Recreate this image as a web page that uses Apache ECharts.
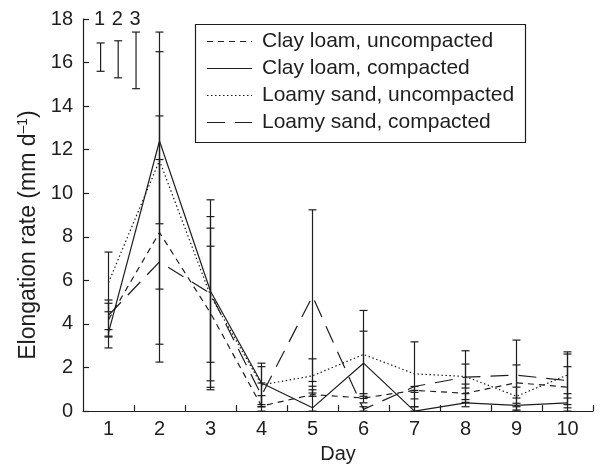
<!DOCTYPE html>
<html>
<head>
<meta charset="utf-8">
<script src="https://cdn.jsdelivr.net/npm/echarts@6/dist/echarts.min.js"></script>
<style>html,body{margin:0;padding:0;background:#fff}#c{width:601px;height:469px}</style>
</head>
<body>
<div id="c"></div>
<script>
// ---- data ----
var days = [1, 2, 3, 4, 5, 6, 7, 8, 9, 10];
var dayTicks = [1.5, 2.5, 3.5, 4.5, 5.5, 6.5, 7.5, 8.5, 9.5, 10.5];
var yTicks = [0, 2, 4, 6, 8, 10, 12, 14, 16, 18];
var seriesNames = ['Clay loam, uncompacted', 'Clay loam, compacted', 'Loamy sand, uncompacted', 'Loamy sand, compacted'];

var clayUncomp   = [4.2, 8.2, 4.5, 0.23, 0.76, 0.6, 0.95, 0.82, 1.3, 1.1];
var clayUncompLo = [3.4, 3.07, 0.98, 0.0, 0.68, 0.38, 0.56, 0.4, 0.6, 0.15];
var clayUncompHi = [4.95, 13.55, 7.57, 0.71, 1.14, 0.8, 0.95, 1.24, 2.12, 2.04];

var clayComp   = [3.6, 12.4, 5.5, 1.29, 0.15, 2.2, 0.0, 0.38, 0.26, 0.38];
var clayCompLo = [2.9, 8.6, 1.39, 0.3, 0.0, 0.68, 0.0, 0.2, 0.0, 0.0];
var clayCompHi = [3.74, 16.5, 9.7, 2.2, 0.98, 3.67, 0.2, 0.8, 0.36, 0.8];

var sandUncomp   = [5.9, 11.5, 5.3, 1.2, 1.62, 2.6, 1.71, 1.59, 0.68, 1.66];
var sandUncompLo = [4.56, 5.6, 1.09, 0.2, 0.83, 0.58, 0.2, 0.53, 0.2, 0.6];
var sandUncompHi = [7.3, 17.4, 8.93, 2.04, 2.4, 4.62, 3.18, 2.77, 1.1, 2.72];

var sandComp   = [4.4, 6.85, 5.4, 0.72, 5.27, 0.08, 1.13, 1.56, 1.65, 1.4];
var sandCompLo = [3.44, 2.25, 2.24, 0.2, 1.36, 0.0, 0.86, 1.06, 0.05, 0.3];
var sandCompHi = [5.1, 11.55, 8.4, 1.29, 9.24, 0.2, 1.13, 2.16, 3.26, 2.62];

// LSD-type reference bars (top-left, labelled 1 2 3)
var lsdLabels = ['1', '2', '3'];
var lsdX  = [0.845, 1.19, 1.54];
var lsdLo = [15.6, 15.3, 14.8];
var lsdHi = [16.9, 17.0, 17.4];

// ---- chart ----
var FONT = 'Liberation Sans, Arial, Helvetica, sans-serif';
var INK = '#1e1e1e';
var DASHES = [[6, 5], null, [1.5, 2.5], [18, 10]];
var chart = echarts.init(document.getElementById('c'));

function pairs(vals) { return days.map(function (d, i) { return [d, vals[i]]; }); }
function errData(lo, hi) { return days.map(function (d, i) { return [d, lo[i], hi[i]]; }); }

function errRender(params, api) {
  var x = api.value(0);
  var p1 = api.coord([x, api.value(1)]);
  var p2 = api.coord([x, api.value(2)]);
  var w = 4;
  var st = { stroke: INK, lineWidth: 1.2 };
  return {
    type: 'group',
    children: [
      { type: 'line', shape: { x1: p1[0], y1: p1[1], x2: p2[0], y2: p2[1] }, style: st },
      { type: 'line', shape: { x1: p1[0] - w, y1: p1[1], x2: p1[0] + w, y2: p1[1] }, style: st },
      { type: 'line', shape: { x1: p2[0] - w, y1: p2[1], x2: p2[0] + w, y2: p2[1] }, style: st }
    ]
  };
}

function lsdRender(params, api) {
  var x = api.value(0);
  var p1 = api.coord([x, api.value(1)]);
  var p2 = api.coord([x, api.value(2)]);
  var pt = api.coord([x, 18]);
  var w = 4;
  var st = { stroke: INK, lineWidth: 1.2 };
  return {
    type: 'group',
    children: [
      { type: 'line', shape: { x1: p1[0], y1: p1[1], x2: p2[0], y2: p2[1] }, style: st },
      { type: 'line', shape: { x1: p1[0] - w, y1: p1[1], x2: p1[0] + w, y2: p1[1] }, style: st },
      { type: 'line', shape: { x1: p2[0] - w, y1: p2[1], x2: p2[0] + w, y2: p2[1] }, style: st },
      { type: 'text', style: { text: lsdLabels[params.dataIndex], x: pt[0] - 1, y: pt[1], align: 'center', verticalAlign: 'middle', fontSize: 20, fontFamily: FONT, fill: INK } }
    ]
  };
}

function lineSeries(i, vals) {
  return {
    name: seriesNames[i], type: 'line', data: pairs(vals), symbol: 'none', showSymbol: false,
    lineStyle: { color: INK, width: 1.2, type: DASHES[i] || 'solid' }, itemStyle: { color: INK },
    z: 3, animation: false
  };
}
function errSeries(lo, hi) {
  return { type: 'custom', renderItem: errRender, data: errData(lo, hi), z: 2, animation: false, silent: true };
}

// legend drawn as graphic (box + line samples + labels)
var legendGraphic = [
  { type: 'rect', shape: { x: 195.5, y: 24.5, width: 330, height: 118 }, style: { fill: '#fff', stroke: INK, lineWidth: 1.2 }, z: 100 }
];
seriesNames.forEach(function (nm, i) {
  var cy = 41 + 27 * i;
  legendGraphic.push({ type: 'line', shape: { x1: 207, y1: cy + 0.5, x2: 252, y2: cy + 0.5 }, style: { stroke: INK, lineWidth: 1.2, lineDash: DASHES[i] }, z: 101 });
  legendGraphic.push({ type: 'text', style: { text: nm, x: 262, y: cy, verticalAlign: 'middle', align: 'left', fontSize: 21, fontFamily: FONT, fill: INK }, z: 101 });
});

var option = {
  animation: false,
  backgroundColor: '#fff',
  textStyle: { fontFamily: FONT },
  grid: { left: 83, right: 8, top: 19, bottom: 54 },
  xAxis: {
    type: 'value', min: 0.5, max: 10.5,
    name: 'Day', nameLocation: 'middle', nameGap: 31,
    nameTextStyle: { fontSize: 20, color: INK, fontFamily: FONT },
    axisLine: { show: true, lineStyle: { color: INK, width: 1.2 } },
    axisTick: { show: true, inside: true, length: 6, customValues: dayTicks, lineStyle: { color: INK, width: 1.2 } },
    axisLabel: { customValues: days, fontSize: 20, color: INK, margin: 8, fontFamily: FONT },
    splitLine: { show: false }
  },
  yAxis: {
    type: 'value', min: 0, max: 18,
    name: '{a|Elongation rate (mm d}{s|–1}{a|)}', nameLocation: 'middle', nameGap: 41,
    nameTextStyle: {
      fontSize: 23, color: INK, fontFamily: FONT, padding: [0, 0, 0, -40],
      rich: {
        a: { fontSize: 23, color: INK, fontFamily: FONT, lineHeight: 25 },
        s: { fontSize: 14, color: INK, fontFamily: FONT, verticalAlign: 'top', lineHeight: 25, padding: [0, 0, 10, 0] }
      }
    },
    axisLine: { show: true, lineStyle: { color: INK, width: 1.2 } },
    axisTick: { show: true, inside: true, length: 6, customValues: yTicks, lineStyle: { color: INK, width: 1.2 } },
    axisLabel: { customValues: yTicks, fontSize: 20, color: INK, margin: 10, fontFamily: FONT },
    splitLine: { show: false }
  },
  graphic: legendGraphic,
  series: [
    errSeries(clayUncompLo, clayUncompHi),
    errSeries(clayCompLo, clayCompHi),
    errSeries(sandUncompLo, sandUncompHi),
    errSeries(sandCompLo, sandCompHi),
    lineSeries(0, clayUncomp),
    lineSeries(1, clayComp),
    lineSeries(2, sandUncomp),
    lineSeries(3, sandComp),
    { type: 'custom', renderItem: lsdRender, data: lsdX.map(function (x, i) { return [x, lsdLo[i], lsdHi[i]]; }), z: 2, animation: false, silent: true }
  ]
};
chart.setOption(option);
</script>
</body>
</html>
